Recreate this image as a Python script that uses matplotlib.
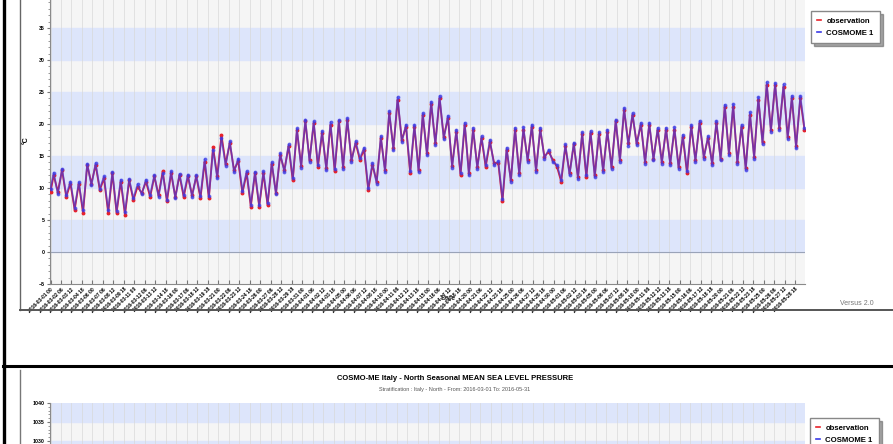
import matplotlib
matplotlib.use("Agg")
import matplotlib.pyplot as plt
from matplotlib.lines import Line2D
import pandas as pd

plt.rcParams['font.family'] = ['Liberation Sans', 'DejaVu Sans']

# daily maxima / minima of 2m temperature (deg C)
obs_max = [12.0, 12.8, 10.7, 10.7, 13.6, 13.6, 11.5, 12.3, 11.0, 11.2,
           10.2, 11.0, 11.8, 12.6, 12.3, 12.0, 11.8, 11.8, 14.1, 16.4,
           18.3, 17.0, 14.2, 12.3, 12.3, 12.3, 13.8, 15.1, 16.5, 19.0,
           20.4, 20.1, 18.6, 19.9, 20.4, 20.6, 17.0, 16.0, 13.6, 17.8,
           21.7, 23.8, 19.6, 19.6, 21.4, 23.2, 24.0, 20.9, 18.8, 19.9,
           19.1, 17.8, 17.2, 13.9, 16.0, 19.1, 19.1, 19.6, 19.1, 15.7,
           13.3, 16.5, 16.8, 18.4, 18.6, 18.4, 18.8, 20.4, 22.2, 21.4,
           19.9, 19.9, 19.1, 19.1, 19.1, 18.0, 19.6, 20.1, 17.8, 20.1,
           22.7, 22.7, 19.6, 21.4, 23.8, 26.1, 26.1, 25.8, 24.0, 24.0]
obs_min = [9.4, 8.6, 6.6, 6.1, 10.7, 9.7, 6.1, 6.1, 5.8, 8.1,
           9.2, 8.6, 8.9, 7.9, 8.6, 8.6, 8.9, 8.4, 8.4, 11.8,
           13.8, 12.8, 9.2, 7.1, 7.1, 7.3, 9.2, 12.8, 11.2, 13.5,
           14.4, 13.3, 13.1, 12.6, 13.3, 14.4, 14.4, 9.7, 11.0, 12.8,
           16.2, 17.5, 12.3, 12.8, 15.4, 17.0, 18.0, 13.5, 12.0, 12.3,
           13.3, 13.3, 13.9, 7.9, 11.2, 12.3, 14.4, 12.8, 14.9, 14.4,
           11.0, 12.3, 11.7, 11.7, 12.0, 12.8, 13.3, 14.4, 17.0, 17.0,
           14.1, 14.6, 14.1, 13.9, 13.3, 12.3, 14.4, 14.9, 13.9, 14.6,
           15.4, 14.1, 13.1, 14.9, 17.2, 19.1, 19.3, 18.0, 16.5, 19.1]
mod_max = [12.4, 13.0, 11.0, 10.9, 13.8, 13.9, 11.8, 12.5, 11.3, 11.4,
           10.6, 11.3, 12.0, 12.3, 12.6, 12.2, 12.1, 12.0, 14.5, 16.0,
           17.8, 17.3, 14.6, 12.6, 12.5, 12.6, 14.0, 15.4, 16.8, 19.3,
           20.7, 20.4, 18.9, 20.3, 20.6, 20.9, 17.3, 16.3, 13.9, 18.1,
           22.0, 24.2, 19.9, 19.9, 21.7, 23.5, 24.4, 21.3, 19.1, 20.2,
           19.4, 18.1, 17.5, 14.2, 16.3, 19.4, 19.5, 19.9, 19.4, 16.0,
           13.6, 16.8, 17.1, 18.7, 18.9, 18.7, 19.1, 20.7, 22.5, 21.7,
           20.2, 20.2, 19.4, 19.4, 19.5, 18.3, 19.9, 20.5, 18.1, 20.5,
           23.0, 23.1, 19.9, 21.8, 24.2, 26.5, 26.4, 26.2, 24.4, 24.4]
mod_min = [9.0, 8.9, 6.9, 6.5, 10.4, 9.9, 6.5, 6.4, 6.2, 8.4,
           9.0, 8.9, 8.6, 8.2, 8.4, 8.9, 8.6, 8.7, 8.7, 11.5,
           13.5, 12.5, 9.5, 7.4, 7.3, 7.6, 9.0, 12.5, 11.5, 13.2,
           14.1, 13.6, 12.8, 12.9, 13.0, 14.1, 14.7, 10.0, 10.7, 12.5,
           15.9, 17.2, 12.6, 12.5, 15.1, 16.7, 17.6, 13.2, 12.3, 12.0,
           13.0, 13.6, 13.6, 8.3, 11.0, 12.0, 14.1, 12.5, 14.6, 14.1,
           11.3, 12.0, 11.4, 12.0, 11.7, 12.5, 13.0, 14.1, 16.6, 16.7,
           13.8, 14.3, 13.8, 13.6, 13.0, 12.6, 14.1, 14.6, 13.6, 14.3,
           15.1, 13.8, 12.8, 14.6, 16.8, 18.8, 19.0, 17.6, 16.2, 19.4]
obs_start = 9.4
mod_start = 9.8

# 3-hourly samples, plotted as categories
n_samples = 720
times = pd.date_range("2016-03-01 00:00", periods=n_samples, freq="3h")
tick_pos = list(range(0, n_samples, 10))
tick_labels = [times[i].strftime("%Y-%m-%d %H") for i in tick_pos]

temp_bands = [(0, 5), (10, 15), (20, 25), (30, 35)]
pres_bands = [(1025, 1030), (1035, 1040)]


def series(start, highs, lows):
    xs, ys = [0], [start]
    for d in range(len(highs)):
        xs += [8 * d + 3, 8 * d + 7]
        ys += [highs[d], lows[d]]
    return xs, ys


W, H = 893, 444
fig = plt.figure(figsize=(W / 100, H / 100), dpi=100)


def rect(x0, y0, x1, y1):
    return [x0 / W, 1 - y1 / H, (x1 - x0) / W, (y1 - y0) / H]


def style_axes(ax, bands):
    ax.set_facecolor("#f5f5f5")
    for lo, hi in bands:
        ax.axhspan(lo, hi, color="#dde5fb", zorder=0)
    ax.set_xlim(-0.5, n_samples - 0.5)
    ax.set_xticks(tick_pos)
    ax.grid(axis="x", color="#d8d8d8", lw=0.6, alpha=0.8)
    ax.set_axisbelow(True)
    for s in ["top", "right"]:
        ax.spines[s].set_visible(False)
    for s in ["left", "bottom"]:
        ax.spines[s].set_color("#8a8a8a")
        ax.spines[s].set_linewidth(0.8)
    ax.tick_params(axis="x", direction="in", length=3, color="#777777")
    ax.tick_params(axis="y", direction="out", length=2.5, color="#777777",
                   labelsize=3.8, pad=1.5)


# top chart: temperature
ax = fig.add_axes(rect(50, -4, 805, 284))
style_axes(ax, temp_bands)
ax.set_ylim(-5, 40)
ax.set_yticks(range(-5, 41, 5))
ax.set_yticks(range(-5, 41), minor=True)
ax.tick_params(axis="y", which="minor", direction="out", length=1.5, color="#888888")
for lab in ax.get_yticklabels():
    lab.set_fontweight("bold")
ax.axhline(0, color="#9aa3b8", lw=0.8, zorder=1)
ax.set_xticklabels(tick_labels, rotation=45, ha="right", rotation_mode="anchor",
                   fontsize=3.6, fontweight="bold")
ax.tick_params(axis="x", pad=2)
ax.set_ylabel("°C", fontsize=5, fontweight="bold", labelpad=6)

ox, oy = series(obs_start, obs_max, obs_min)
mx, my = series(mod_start, mod_max, mod_min)
ax.plot(ox, oy, color="#e8222a", lw=1.3, marker="o", ms=1.8, zorder=3)
ax.plot(mx, my, color="#3a3ae6", lw=1.3, marker="o", ms=1.8, alpha=0.65, zorder=4)

handles = [Line2D([], [], color="#e8222a", lw=1.2),
           Line2D([], [], color="#3a3ae6", lw=1.2)]
names = ["observation", "COSMOME 1"]
leg_kw = dict(loc="upper left", handlelength=0.5, handletextpad=0.7,
              borderpad=0.8, labelspacing=0.6, fancybox=False, shadow=True,
              edgecolor="#888888", prop={"weight": "bold", "size": 5.6})
fig.legend(handles, names, bbox_to_anchor=(807 / W, 1 - 7 / H), **leg_kw)

fig.text(448 / W, 1 - 298 / H, "Date", fontsize=5, fontweight="bold",
         ha="center", va="center", color="#333333")
fig.text(840 / W, 1 - 303 / H, "Versus 2.0", fontsize=5, color="#777777",
         ha="left", va="center")

# bottom chart: mean sea level pressure (mostly cut off)
ax2 = fig.add_axes(rect(50, 403, 805, 403 + 40 * 3.8))
style_axes(ax2, pres_bands)
ax2.set_ylim(1000, 1040)
ax2.set_yticks(range(1000, 1041, 5))
ax2.set_yticks(range(1000, 1041), minor=True)
ax2.tick_params(axis="y", which="minor", direction="out", length=1.5, color="#888888")
for lab in ax2.get_yticklabels():
    lab.set_fontweight("bold")
ax2.set_xticklabels([])

fig.text(455 / W, 1 - 378 / H,
         "COSMO-ME Italy - North Seasonal MEAN SEA LEVEL PRESSURE",
         fontsize=5.5, fontweight="bold", ha="center", va="center")
fig.text(455 / W, 1 - 389 / H,
         "Stratification : Italy - North - From: 2016-03-01 To: 2016-05-31",
         fontsize=4, color="#555555", ha="center", va="center")
fig.legend(handles, names, bbox_to_anchor=(806 / W, 1 - 414 / H), **leg_kw)


# page frame lines
def fline(xs, ys, color, lw):
    fig.add_artist(Line2D([x / W for x in xs], [1 - y / H for y in ys],
                          color=color, lw=lw, transform=fig.transFigure))


fline([20, 20], [0, 310], "#666666", 1.0)
fline([20, 893], [310, 310], "#555555", 1.4)
fline([20, 20], [370, 444], "#777777", 1.0)
fline([3, 893], [366, 366], "black", 2.2)
fline([4, 4], [0, 444], "black", 2.4)

fig.savefig("out.png", dpi=100)
